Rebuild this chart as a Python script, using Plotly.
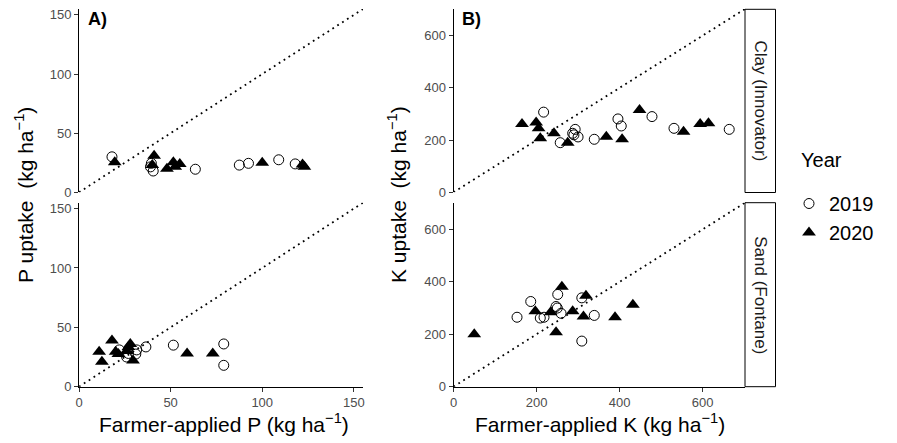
import plotly.graph_objects as go

# ---------------- data ----------------
years = ["2019", "2020"]

clay_p_2019_x = [18, 39.5, 39, 40.5, 63.5, 87.5, 92.5, 109, 118]
clay_p_2019_y = [30, 24.5, 21.5, 18, 19.5, 23, 24.5, 27.5, 24]
clay_p_2020_x = [19.5, 41, 40, 48, 51.5, 52.5, 55, 100, 122, 123]
clay_p_2020_y = [25.5, 31, 23, 20, 25.5, 21.5, 24, 25, 23.5, 21.5]

sand_p_2019_x = [22, 26, 27, 31, 31.5, 36.5, 51.5, 79, 79]
sand_p_2019_y = [31, 25, 28, 27.5, 31, 33.5, 35, 36, 18]
sand_p_2020_x = [11, 12.5, 18, 20, 21.5, 26, 27, 28, 29.5, 59, 73]
sand_p_2020_y = [29.5, 21, 39, 29.5, 27.5, 30, 33.5, 36, 22, 28, 28]

clay_k_2019_x = [217, 257, 287, 293, 290, 300, 339, 396, 404, 478, 531, 664]
clay_k_2019_y = [307, 190, 226, 241, 220, 212, 203, 281, 254, 290, 245, 241]
clay_k_2020_x = [165, 199, 205, 209, 242, 275, 368, 406, 448, 554, 594, 614]
clay_k_2020_y = [262, 267, 245, 207, 226, 190, 213, 203, 315, 232, 262, 264]

sand_k_2019_x = [153, 186, 209, 218, 247, 250, 251, 259, 309, 339, 309]
sand_k_2019_y = [265, 325, 262, 265, 306, 300, 352, 280, 339, 272, 174]
sand_k_2020_x = [50, 197, 234, 247, 261, 287, 313, 319, 389, 432]
sand_k_2020_y = [200, 288, 284, 208, 381, 288, 268, 347, 265, 313]

p_ticks = [0, 50, 100, 150]
k_ticks = [0, 200, 400, 600]
p_max = 155
k_max = 702

strip_labels = ["Clay (Innovator)", "Sand (Fontane)"]

# ---------------- layout geometry ----------------
W, H = 897, 443
def px(x):
    return x / W
def py(y):
    return 1 - y / H

xa_dom = [px(79), px(363)]
xb_dom = [px(453.5), px(745)]
top_dom = [py(192.3), py(9)]
bot_dom = [py(386.7), py(202.7)]

FONT = "Liberation Sans, Arial, sans-serif"

fig = go.Figure()

open_marker = dict(symbol="circle-open", size=10, color="black", line=dict(width=1, color="black"))
tri_marker = dict(symbol="triangle-up", size=12, color="black", line=dict(width=0))

panels = [
    ("x", "y", clay_p_2019_x, clay_p_2019_y, clay_p_2020_x, clay_p_2020_y, p_max),
    ("x2", "y2", clay_k_2019_x, clay_k_2019_y, clay_k_2020_x, clay_k_2020_y, k_max),
    ("x3", "y3", sand_p_2019_x, sand_p_2019_y, sand_p_2020_x, sand_p_2020_y, p_max),
    ("x4", "y4", sand_k_2019_x, sand_k_2019_y, sand_k_2020_x, sand_k_2020_y, k_max),
]

for i, (xa, ya, x19, y19, x20, y20, mx) in enumerate(panels):
    fig.add_trace(go.Scatter(
        x=[0, mx], y=[0, mx], mode="lines", xaxis=xa, yaxis=ya,
        line=dict(color="black", width=1.8, dash="1.8px,4px"),
        showlegend=False, hoverinfo="skip"))
    fig.add_trace(go.Scatter(
        x=x19, y=y19, mode="markers", xaxis=xa, yaxis=ya, name=years[0],
        marker=open_marker, showlegend=(i == 0)))
    fig.add_trace(go.Scatter(
        x=x20, y=y20, mode="markers", xaxis=xa, yaxis=ya, name=years[1],
        marker=tri_marker, showlegend=(i == 0)))

tickfont = dict(family=FONT, size=13, color="#4d4d4d")

def xaxis_cfg(dom, rng, ticks, show, anchor):
    return dict(domain=dom, range=[0, rng], anchor=anchor, automargin=False,
                tickvals=ticks if show else [], showticklabels=show,
                showline=show, linecolor="black", linewidth=1,
                ticks="outside" if show else "", ticklen=4, tickcolor="#333333",
                tickfont=tickfont, showgrid=False, zeroline=False, fixedrange=True)

def yaxis_cfg(dom, rng, ticks, anchor):
    return dict(domain=dom, range=[0, rng], anchor=anchor, automargin=False,
                tickvals=ticks, showline=True, linecolor="black", linewidth=1,
                ticks="outside", ticklen=4, tickcolor="#333333",
                tickfont=tickfont, showgrid=False, zeroline=False, fixedrange=True)

fig.update_layout(
    template="none",
    width=W, height=H,
    margin=dict(l=0, r=0, t=0, b=0, pad=0, autoexpand=False),
    paper_bgcolor="white", plot_bgcolor="rgba(0,0,0,0)",
    font=dict(family=FONT, color="black"),
    xaxis=xaxis_cfg(xa_dom, p_max, p_ticks, False, "y"),
    xaxis2=xaxis_cfg(xb_dom, k_max, k_ticks, False, "y2"),
    xaxis3=xaxis_cfg(xa_dom, p_max, p_ticks, True, "y3"),
    xaxis4=xaxis_cfg(xb_dom, k_max, k_ticks, True, "y4"),
    yaxis=yaxis_cfg(top_dom, p_max, p_ticks, "x"),
    yaxis2=yaxis_cfg(top_dom, k_max, k_ticks, "x2"),
    yaxis3=yaxis_cfg(bot_dom, p_max, p_ticks, "x3"),
    yaxis4=yaxis_cfg(bot_dom, k_max, k_ticks, "x4"),
    legend=dict(
        font=dict(size=20, family=FONT),
        x=px(789), y=py(184), xanchor="left", yanchor="top",
        bgcolor="rgba(0,0,0,0)", tracegroupgap=0, itemsizing="trace"),
    showlegend=True,
)

# legend title
fig.add_annotation(text="Year", xref="paper", yref="paper", x=px(799), y=py(160),
                   showarrow=False, xanchor="left", yanchor="middle",
                   font=dict(size=20, family=FONT, color="black"))

# strips
for lab, (y0, y1) in zip(strip_labels, [(9.3, 192.5), (202.7, 386.7)]):
    fig.add_shape(type="rect", xref="paper", yref="paper",
                  x0=px(745), x1=px(775.5), y0=py(y1), y1=py(y0),
                  line=dict(color="black", width=1), fillcolor="white")
    fig.add_annotation(text=lab, xref="paper", yref="paper",
                       x=px(760.5), y=py((y0 + y1) / 2), showarrow=False,
                       textangle=90, font=dict(size=17, family=FONT, color="#1a1a1a"),
                       xanchor="center", yanchor="middle")

# panel labels
for lab, xx in [("A)", 86), ("B)", 460)]:
    fig.add_annotation(text="<b>" + lab + "</b>", xref="paper", yref="paper",
                       x=px(xx), y=py(19), showarrow=False, xanchor="left", yanchor="middle",
                       font=dict(size=18, family=FONT, color="black"))

# axis titles
title_font = dict(size=21, family=FONT, color="black")
fig.add_annotation(text="Farmer-applied P (kg ha<sup>−1</sup>)", xref="paper", yref="paper",
                   x=px(224), y=py(423), showarrow=False, font=title_font,
                   xanchor="center", yanchor="middle")
fig.add_annotation(text="Farmer-applied K (kg ha<sup>−1</sup>)", xref="paper", yref="paper",
                   x=px(600), y=py(423), showarrow=False, font=title_font,
                   xanchor="center", yanchor="middle")
fig.add_annotation(text="P uptake  (kg ha<sup>−1</sup>)", xref="paper", yref="paper",
                   x=px(24), y=py(195), showarrow=False, font=title_font, textangle=-90,
                   xanchor="center", yanchor="middle")
fig.add_annotation(text="K uptake  (kg ha<sup>−1</sup>)", xref="paper", yref="paper",
                   x=px(397), y=py(195), showarrow=False, font=title_font, textangle=-90,
                   xanchor="center", yanchor="middle")

fig.write_html("out.html", config={"displayModeBar": False},
               post_script="document.body.style.margin='0px';document.body.style.padding='0px';")
